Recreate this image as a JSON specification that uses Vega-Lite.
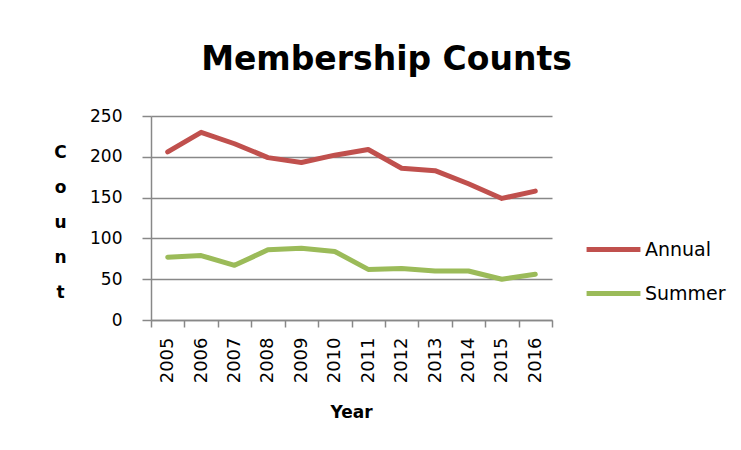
{
  "$schema": "https://vega.github.io/schema/vega-lite/v6.json",
  "width": 401,
  "height": 204,
  "autosize": {"type": "none"},
  "padding": {"left": 151, "top": 116, "right": 189, "bottom": 130},
  "background": "white",
  "title": {
    "text": "Membership Counts",
    "font": "DejaVu Sans",
    "fontSize": 33,
    "fontWeight": "bold",
    "color": "black",
    "anchor": "middle",
    "frame": "group",
    "dx": 35,
    "offset": 30
  },
  "data": {
    "values": [
      {"Year": 2005, "Series": "Annual", "Count": 206},
      {"Year": 2006, "Series": "Annual", "Count": 230},
      {"Year": 2007, "Series": "Annual", "Count": 216},
      {"Year": 2008, "Series": "Annual", "Count": 199},
      {"Year": 2009, "Series": "Annual", "Count": 193},
      {"Year": 2010, "Series": "Annual", "Count": 202},
      {"Year": 2011, "Series": "Annual", "Count": 209},
      {"Year": 2012, "Series": "Annual", "Count": 186},
      {"Year": 2013, "Series": "Annual", "Count": 183},
      {"Year": 2014, "Series": "Annual", "Count": 167},
      {"Year": 2015, "Series": "Annual", "Count": 149},
      {"Year": 2016, "Series": "Annual", "Count": 158},
      {"Year": 2005, "Series": "Summer", "Count": 77},
      {"Year": 2006, "Series": "Summer", "Count": 79},
      {"Year": 2007, "Series": "Summer", "Count": 67},
      {"Year": 2008, "Series": "Summer", "Count": 86},
      {"Year": 2009, "Series": "Summer", "Count": 88},
      {"Year": 2010, "Series": "Summer", "Count": 84},
      {"Year": 2011, "Series": "Summer", "Count": 62},
      {"Year": 2012, "Series": "Summer", "Count": 63},
      {"Year": 2013, "Series": "Summer", "Count": 60},
      {"Year": 2014, "Series": "Summer", "Count": 60},
      {"Year": 2015, "Series": "Summer", "Count": 50},
      {"Year": 2016, "Series": "Summer", "Count": 56}
    ]
  },
  "mark": {"type": "line", "strokeWidth": 5, "strokeJoin": "round", "strokeCap": "round"},
  "encoding": {
    "x": {
      "field": "Year",
      "type": "quantitative",
      "scale": {"domain": [2004.5, 2016.5], "nice": false, "zero": false},
      "axis": {
        "title": "Year",
        "titleFont": "DejaVu Sans",
        "titleFontSize": 17,
        "titleFontWeight": "bold",
        "titleColor": "black",
        "titleBaseline": "alphabetic",
        "titleX": 200,
        "titleY": 97,
        "titleAlign": "center",
        "values": [2004.5, 2005, 2005.5, 2006, 2006.5, 2007, 2007.5, 2008, 2008.5, 2009, 2009.5, 2010, 2010.5, 2011, 2011.5, 2012, 2012.5, 2013, 2013.5, 2014, 2014.5, 2015, 2015.5, 2016, 2016.5],
        "labelExpr": "datum.value % 1 === 0 ? format(datum.value, 'd') : ''",
        "tickOpacity": {"condition": {"test": "datum.value % 1 === 0", "value": 0}, "value": 1},
        "labelAngle": -90,
        "labelAlign": "right",
        "labelBaseline": "middle",
        "labelFont": "DejaVu Sans",
        "labelFontSize": 18,
        "labelColor": "black",
        "labelPadding": 10,
        "labelOverlap": false,
        "labelFlush": false,
        "labelBound": false,
        "tickSize": 7,
        "tickColor": "#888888",
        "tickWidth": 1.5,
        "domainColor": "#888888",
        "domainWidth": 1.5,
        "grid": false
      }
    },
    "y": {
      "field": "Count",
      "type": "quantitative",
      "scale": {"domain": [0, 250], "nice": false},
      "axis": {
        "title": ["C", "o", "u", "n", "t"],
        "titleAngle": 0,
        "titleFont": "DejaVu Sans",
        "titleFontSize": 17,
        "titleFontWeight": "bold",
        "titleColor": "black",
        "titleLineHeight": 35,
        "titleAlign": "center",
        "titleBaseline": "middle",
        "titleX": -91,
        "titleY": 36,
        "values": [0, 50, 100, 150, 200, 250],
        "labelFont": "DejaVu Sans",
        "labelFontSize": 17,
        "labelColor": "black",
        "labelPadding": 20,
        "tickSize": 9,
        "tickColor": "#888888",
        "tickWidth": 1.5,
        "domainColor": "#888888",
        "domainWidth": 1.5,
        "grid": true,
        "gridColor": "#888888",
        "gridWidth": 1.5
      }
    },
    "color": {
      "field": "Series",
      "type": "nominal",
      "scale": {"domain": ["Annual", "Summer"], "range": ["#C0504D", "#9BBB59"]},
      "legend": {
        "title": null,
        "orient": "none",
        "legendX": 433,
        "legendY": 104,
        "symbolType": "stroke",
        "symbolSize": 2900,
        "symbolStrokeWidth": 5,
        "labelFont": "DejaVu Sans",
        "labelFontSize": 19,
        "labelColor": "black",
        "labelOffset": 2,
        "rowPadding": 4
      }
    }
  },
  "config": {"view": {"stroke": null}}
}
